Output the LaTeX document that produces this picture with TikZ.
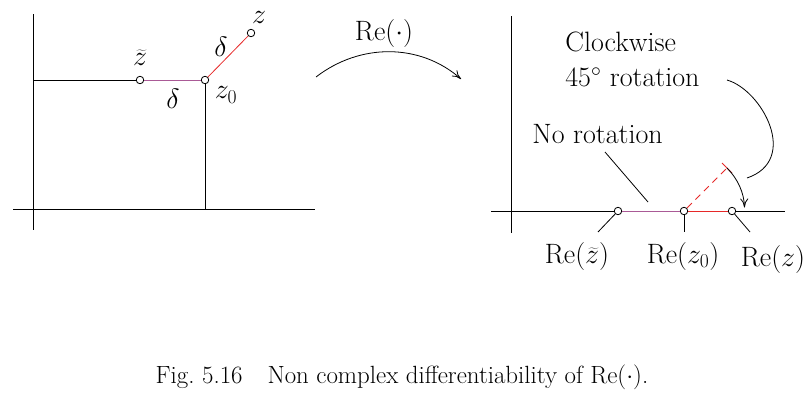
\RequirePackage{fix-cm}
\documentclass[tikz,border=0pt]{standalone}
\usetikzlibrary{arrows.meta}
\definecolor{myred}{RGB}{230,40,40}
\definecolor{mypurple}{RGB}{170,90,150}
\begin{document}
\begin{tikzpicture}[x=1pt,y=-1pt,line width=0.8pt,
  pt/.style={circle,draw=black,fill=white,inner sep=0pt,minimum size=7.5pt,line width=0.8pt},
  lab/.style={inner sep=1pt,font=\fontsize{28}{33}\selectfont},
  arr/.style={-{To[length=9pt,width=8pt]}}]
\useasboundingbox (0,0) rectangle (809,405);
% left panel
\draw (33,14) -- (33,230);
\draw (13,209) -- (315,209);
\node[pt] (zt) at (140,80) {};
\node[pt] (z0) at (205,80) {};
\node[pt] (z) at (251,33) {};
\coordinate (yax) at (33,80);
\coordinate (z0b) at (205,209);
\draw (yax) -- (zt);
\draw[mypurple] (zt) -- (z0);
\draw (z0) -- (z0b);
\draw[myred] (z0) -- (z);
\node[lab] at (259,17) {$z$};
\node[lab] at (221,47) {$\delta$};
\node[lab] at (140,58) {$\widetilde{z}$};
\node[lab] at (173,99) {$\delta$};
\node[lab] at (226,95) {$z_0$};
% map arrow
\coordinate (ma) at (316,77);
\coordinate (mb) at (461,79);
\draw[arr] (ma) .. controls (360,43) and (420,43) .. (mb);
\node[lab] at (384,33) {$\mathrm{Re}(\cdot)$};
% right panel
\draw (511,16) -- (511,233);
\draw (491,211) -- (785,211);
\node[pt] (rzt) at (618,211) {};
\node[pt] (rz0) at (684,211) {};
\node[pt] (rz) at (732,211) {};
\draw[mypurple] (rzt) -- (rz0);
\draw[myred] (rz0) -- (rz);
\coordinate (dend) at (727,168);
\draw[myred,dashed,dash pattern=on 7pt off 5pt] (rz0) -- (dend);
\coordinate (t1) at (722,163);
\coordinate (t2) at (732,173);
\draw[myred] (t1) -- (t2);
\draw[arr] (dend) .. controls (737.6,178.6) and (744.1,192.8) .. (744.5,207.5);
\node[lab,anchor=west] (cw) at (564,42) {Clockwise};
\node[lab,anchor=west] (rot) at (564,77) {$45^\circ$ rotation};
\coordinate (ca) at (727,80);
\coordinate (cb) at (747,178);
\draw (ca) .. controls (762,90) and (800,160) .. (cb);
\node[lab,anchor=west] (nr) at (531,134) {No rotation};
\coordinate (n1) at (605,152);
\coordinate (n2) at (648,202);
\draw (n1) -- (n2);
\coordinate (l1) at (598,232);
\coordinate (l2) at (684,232);
\coordinate (l3) at (750,232);
\draw (rzt) -- (l1);
\draw (rz0) -- (l2);
\draw (rz) -- (l3);
\node[lab] at (577,256) {$\mathrm{Re}(\widetilde{z})$};
\node[lab] at (683,256) {$\mathrm{Re}(z_0)$};
\node[lab] at (773,259) {$\mathrm{Re}(z)$};
% caption
\node[font=\fontsize{24.9}{29}\selectfont] at (402,377) {Fig.~5.16\quad Non complex differentiability of $\mathrm{Re}(\cdot)$.};
\end{tikzpicture}
\end{document}
